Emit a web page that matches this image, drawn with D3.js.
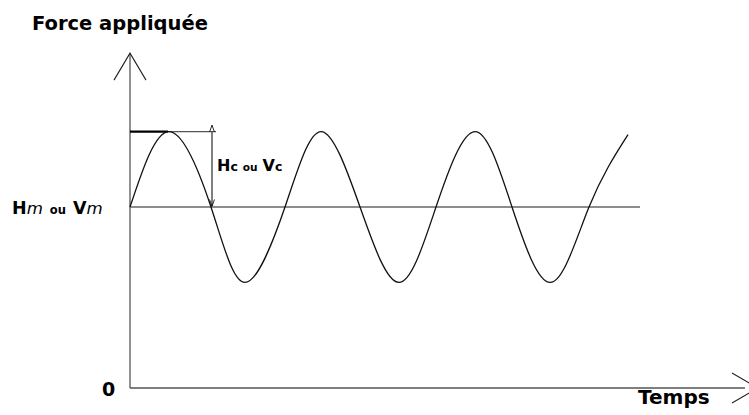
<!DOCTYPE html>
<html>
<head>
<meta charset="utf-8">
<script src="https://cdn.jsdelivr.net/npm/d3@7"></script>
<style>
  html, body { margin: 0; padding: 0; background: #fff; }
  svg { display: block; }
  text { font-family: "DejaVu Sans", Verdana, sans-serif; fill: #000; }
</style>
</head>
<body>
<script>
// Cyclic load: key points of the wave (time, force)
const waveTime  = [0, 39, 81, 115, 155, 191, 230, 269, 306, 345, 382, 421, 459, 498];
const waveForce = [60, 85, 60, 35, 60, 85, 60, 35, 60, 85, 60, 35, 60, 84];

const meanForce = 60;      // Hm / Vm
const peakForce = 85;      // Hm + Hc
const meanLineEnd = 510;   // time where the mean level line stops
const peakLineEnd = 86;
const peakThickEnd = 38;
const ampMarkerTime = 82;
const yAxisTop = 111;
const xAxisEnd = 615;

const yTitle = "Force appliquée";
const xTitle = "Temps";
const zeroLabel = "0";

const W = 749, H = 415;
const svg = d3.select("body").append("svg").attr("width", W).attr("height", H);

const x = d3.scaleLinear().domain([0, 615]).range([130, 745]);
const y = d3.scaleLinear().domain([0, 100]).range([388, 86.33]);

const defs = svg.append("defs");
["start", "end"].forEach(k => {
  defs.append("marker")
    .attr("id", "amp-" + k)
    .attr("viewBox", "0 0 10 10")
    .attr("refX", k === "end" ? 10 : 0).attr("refY", 5)
    .attr("markerWidth", 7).attr("markerHeight", 7)
    .attr("orient", "auto-start-reverse")
    .append("path").attr("d", "M0,1.5 L10,5 L0,8.5").attr("fill", "none").attr("stroke", "#000").attr("stroke-width", 1.2);
});

// axes
const axisColor = "#555";
svg.append("line")
  .attr("x1", x(0)).attr("x2", x(0)).attr("y1", y(0)).attr("y2", y(yAxisTop))
  .attr("stroke", axisColor).attr("stroke-width", 1.3);
svg.append("line")
  .attr("x1", x(0)).attr("x2", x(xAxisEnd)).attr("y1", y(0)).attr("y2", y(0))
  .attr("stroke", axisColor).attr("stroke-width", 1.5);

// arrow heads of the axes
const tipY = y(yAxisTop);
svg.append("path")
  .attr("d", `M${x(0) - 16},${tipY + 27} L${x(0)},${tipY} L${x(0) + 16},${tipY + 27}`)
  .attr("fill", "none").attr("stroke", "#222").attr("stroke-width", 1.1);
const tipX = x(xAxisEnd) + 13;
svg.append("path")
  .attr("d", `M${tipX - 26},${y(0) - 15} L${tipX},${y(0)} L${tipX - 26},${y(0) + 15}`)
  .attr("fill", "none").attr("stroke", "#222").attr("stroke-width", 1.1);

// mean level
svg.append("line")
  .attr("x1", x(0)).attr("x2", x(meanLineEnd)).attr("y1", y(meanForce)).attr("y2", y(meanForce))
  .attr("stroke", "#666").attr("stroke-width", 1.6);

// peak level
svg.append("line")
  .attr("x1", x(peakThickEnd)).attr("x2", x(peakLineEnd)).attr("y1", y(peakForce)).attr("y2", y(peakForce))
  .attr("stroke", "#555").attr("stroke-width", 1.2);
svg.append("line")
  .attr("x1", x(0)).attr("x2", x(peakThickEnd)).attr("y1", y(peakForce)).attr("y2", y(peakForce))
  .attr("stroke", "#000").attr("stroke-width", 2.2);

// amplitude marker
svg.append("line")
  .attr("x1", x(ampMarkerTime)).attr("x2", x(ampMarkerTime))
  .attr("y1", y(peakForce) + 0.5).attr("y2", y(meanForce) - 0.5)
  .attr("stroke", "#000").attr("stroke-width", 1)
  .attr("marker-start", "url(#amp-start)").attr("marker-end", "url(#amp-end)");

// wave
const pts = waveTime.map((t, i) => [t, waveForce[i]]);
svg.append("path")
  .datum(pts)
  .attr("d", d3.line().x(d => x(d[0])).y(d => y(d[1])).curve(d3.curveNatural))
  .attr("fill", "none").attr("stroke", "#111").attr("stroke-width", 1.3);

// labels
svg.append("text").attr("x", 32).attr("y", 30)
  .attr("font-size", 19.5).attr("font-weight", "bold").text(yTitle);

svg.append("text").attr("x", 638).attr("y", 404)
  .attr("font-size", 20).attr("font-weight", "bold").text(xTitle);

svg.append("text").attr("x", 102).attr("y", 396)
  .attr("font-size", 19).attr("font-weight", "bold").text(zeroLabel);

function sublabel(sel, main1, sub1, mid, main2, sub2, italicSub, size, gap) {
  sel.append("tspan").attr("font-weight", "bold").attr("font-size", size).text(main1);
  sel.append("tspan").attr("font-style", italicSub ? "italic" : "normal")
    .attr("font-weight", italicSub ? "normal" : "bold")
    .attr("font-size", size * (italicSub ? 0.95 : 0.78)).text(sub1);
  sel.append("tspan").attr("font-weight", "bold").attr("font-size", size * 0.66).attr("dx", gap).text(mid);
  sel.append("tspan").attr("font-weight", "bold").attr("font-size", size).attr("dx", gap).text(main2);
  sel.append("tspan").attr("font-style", italicSub ? "italic" : "normal")
    .attr("font-weight", italicSub ? "normal" : "bold")
    .attr("font-size", size * (italicSub ? 0.95 : 0.78)).text(sub2);
}

sublabel(svg.append("text").attr("x", 12).attr("y", 214), "H", "m", "ou", "V", "m", true, 17.5, 7);
sublabel(svg.append("text").attr("x", 217).attr("y", 171), "H", "c", "ou", "V", "c", false, 16, 5);
</script>
</body>
</html>
